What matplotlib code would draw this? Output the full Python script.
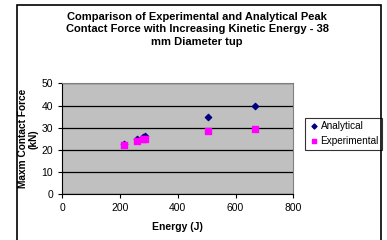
import matplotlib.pyplot as plt
from matplotlib.patches import Rectangle

energy = [214, 258, 278, 287, 505, 668]
analytical = [22.7, 25.0, 25.9, 26.3, 34.7, 40.0]
experimental = [22.3, 23.8, 25.1, 24.7, 28.4, 29.6]
x_ticks = [0, 200, 400, 600, 800]
y_ticks = [0, 10, 20, 30, 40, 50]

plt.rcParams['font.family'] = ['Liberation Sans', 'DejaVu Sans']

fig = plt.figure(figsize=(3.87, 2.40), dpi=100)
W, H = 387, 240
ax = fig.add_axes([62.3 / W, 1 - 194.3 / H, 231 / W, 111 / H])

# outer chart frame
fig.patches.append(Rectangle((17 / W, -0.01), 364 / W, 1 - 5 / H + 0.01,
                             transform=fig.transFigure, fill=False,
                             edgecolor='black', linewidth=1.2))

ax.set_facecolor('#C0C0C0')
ax.set_xlim(0, 800)
ax.set_ylim(0, 50)
ax.set_xticks(x_ticks)
ax.set_yticks(y_ticks)
ax.yaxis.grid(True, color='black', linewidth=0.9)
ax.set_axisbelow(True)

ax.scatter(energy, analytical, marker='D', s=10, color='#000080',
           label='Analytical', zorder=3)
ax.scatter(energy, experimental, marker='s', s=14, color='#FF00FF',
           label='Experimental', zorder=3)

for side in ['top', 'right']:
    ax.spines[side].set_color('#808080')
    ax.spines[side].set_linewidth(0.8)
for side in ['left', 'bottom']:
    ax.spines[side].set_color('black')
    ax.spines[side].set_linewidth(0.8)
ax.tick_params(direction='out', length=3, width=0.8, labelsize=7.5,
               colors='black')

ax.set_xlabel('Energy (J)', fontsize=7.5, fontweight='bold', labelpad=6)
ax.set_ylabel('Maxm Contact Force\n(kN)', fontsize=7.3, fontweight='bold',
              linespacing=1.12, va='center')
ax.yaxis.set_label_coords(-0.148, 0.5)

fig.text(197 / W, 1 - 11.5 / H,
         'Comparison of Experimental and Analytical Peak\n'
         'Contact Force with Increasing Kinetic Energy - 38\n'
         'mm Diameter tup',
         ha='center', va='top', fontsize=8.0, fontweight='bold',
         linespacing=1.35)

leg = ax.legend(loc='center left', bbox_to_anchor=(305 / W, 1 - 133.5 / H),
                bbox_transform=fig.transFigure, fontsize=7.2, frameon=True,
                fancybox=False, edgecolor='black', borderpad=0.35,
                handletextpad=0.2, handlelength=1.0, labelspacing=0.5,
                borderaxespad=0, markerscale=0.8)
leg.get_frame().set_linewidth(0.8)

fig.savefig('out.png', dpi=100)
